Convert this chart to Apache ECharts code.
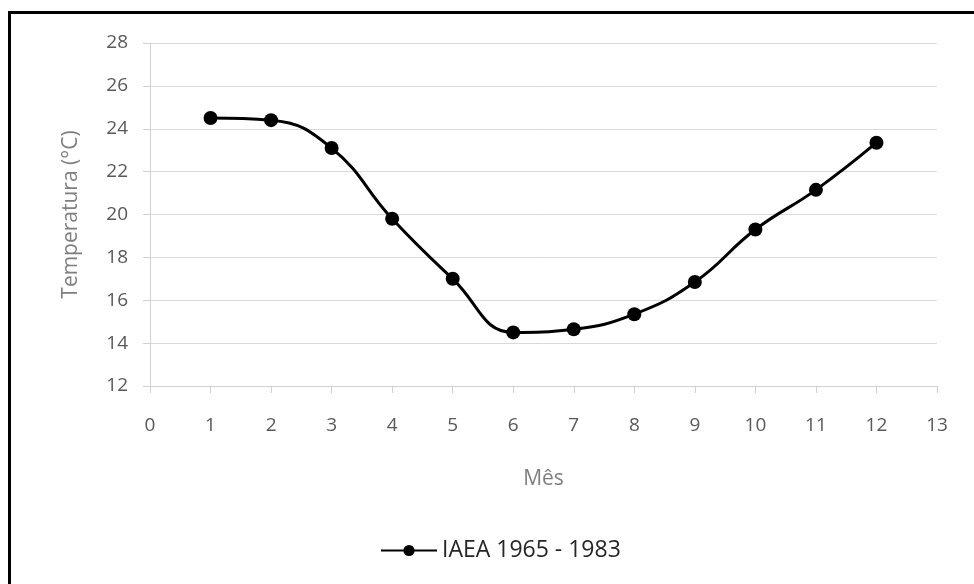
<!DOCTYPE html>
<html>
<head>
<meta charset="utf-8">
<script src="https://cdn.jsdelivr.net/npm/echarts@6/dist/echarts.min.js"></script>
<style>
  html, body {margin: 0; padding: 0; background: #fff;}
  #frame {position: absolute; left: 8px; top: 11px; width: 980px; height: 600px;
    border-left: 3px solid #000; border-top: 3px solid #000;}
  #chart {position: absolute; left: 0; top: 0; width: 974px; height: 584px;}
</style>
</head>
<body>
<div id="frame"></div>
<div id="chart"></div>
<script>
// meses e temperatura media (IAEA 1965 - 1983)
var months = [1, 2, 3, 4, 5, 6, 7, 8, 9, 10, 11, 12];
var temps = [24.5, 24.4, 23.1, 19.8, 17.0, 14.5, 14.65, 15.35, 16.85, 19.3, 21.15, 23.35];
var seriesName = 'IAEA 1965 - 1983';

var fontFam = '"Open Sans", "Noto Sans", sans-serif';
var points = months.map(function (m, i) { return [m, temps[i]]; });

var chart = echarts.init(document.getElementById('chart'));
chart.setOption({
  animation: false,
  textStyle: {fontFamily: fontFam},
  grid: {left: 150, right: 37, top: 43, bottom: 198},
  legend: {
    bottom: 17,
    left: 375,
    itemWidth: 56,
    itemHeight: 14,
    itemGap: 4,
    textStyle: {fontSize: 23, color: '#262626', fontFamily: fontFam},
    data: [seriesName]
  },
  xAxis: {
    type: 'value',
    min: 0,
    max: 13,
    interval: 1,
    name: 'Mês',
    nameLocation: 'middle',
    nameGap: 83,
    nameTextStyle: {fontSize: 21, color: '#7f7f7f'},
    axisLine: {lineStyle: {color: '#d0d0d0', width: 1}},
    axisTick: {show: true, length: 7, lineStyle: {color: '#d0d0d0'}},
    axisLabel: {fontSize: 19, color: '#595959', margin: 30},
    splitLine: {show: false}
  },
  yAxis: {
    type: 'value',
    min: 12,
    max: 28,
    interval: 2,
    name: 'Temperatura (°C)',
    nameLocation: 'middle',
    nameGap: 68,
    nameTextStyle: {fontSize: 21, color: '#7f7f7f'},
    axisLine: {show: true, lineStyle: {color: '#d0d0d0', width: 1}},
    axisTick: {show: true, length: 7, lineStyle: {color: '#d0d0d0'}},
    axisLabel: {fontSize: 19, color: '#595959', margin: 22},
    splitLine: {lineStyle: {color: '#d9d9d9', width: 1}}
  },
  series: [{
    name: seriesName,
    type: 'line',
    smooth: 0.45,
    data: points,
    symbol: 'circle',
    symbolSize: 14,
    itemStyle: {color: '#000'},
    lineStyle: {color: '#000', width: 3}
  }]
});
</script>
</body>
</html>
